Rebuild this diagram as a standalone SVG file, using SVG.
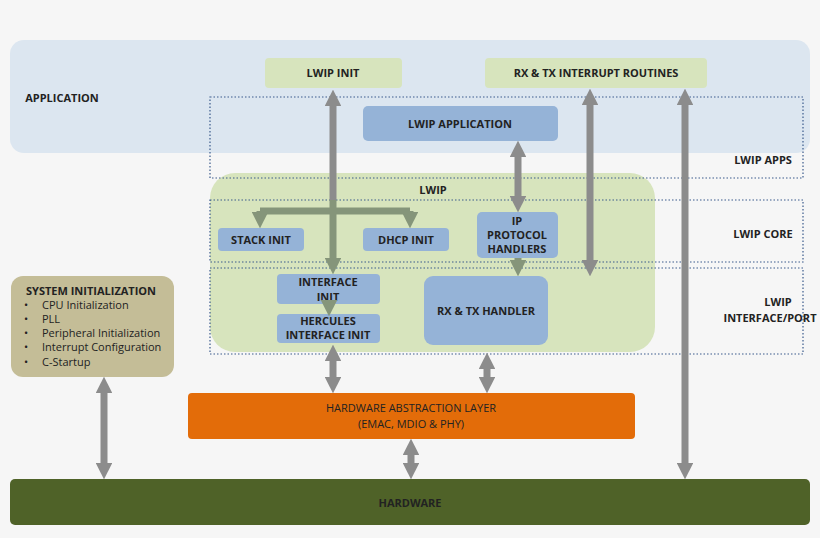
<svg xmlns="http://www.w3.org/2000/svg" width="820" height="538" viewBox="0 0 820 538">
<defs>
<marker id="ah" viewBox="0 0 10 10" refX="5" refY="5" markerWidth="2.4" markerHeight="2.4" orient="auto-start-reverse" markerUnits="strokeWidth"><path d="M0,0L10,5L0,10z" fill="context-stroke"/></marker>
<style>
text{font-family:"Open Sans","Liberation Sans",sans-serif;font-weight:bold;font-size:11px;fill:#222;text-anchor:middle}
.n{font-weight:normal}
.blue{fill:#95b3d7}
.green{fill:#d7e4bd}
.dot{fill:none;stroke:#3a5a8c;stroke-width:1.2;stroke-dasharray:1.5 2}
.a{stroke:#8c8c8c;stroke-width:7;fill:none;marker-start:url(#ah);marker-end:url(#ah)}
.g{stroke:#85957a;stroke-width:7;fill:none}
</style>
</defs>
<rect width="820" height="538" fill="#f6f6f6"/>
<g id="application"><rect x="10" y="40" width="800" height="113" rx="14" fill="#dce6f0"/><text x="62" y="102" text-anchor="middle">APPLICATION</text></g>
<g id="lwip"><rect x="210" y="173" width="445" height="179" rx="25" class="green"/><text x="433" y="194">LWIP</text></g>
<g id="lwip-apps"><rect x="210" y="97" width="593" height="81" class="dot"/><text x="763" y="164">LWIP APPS</text></g>
<g id="lwip-core"><rect x="210" y="200" width="593" height="62" class="dot"/><text x="763" y="238">LWIP CORE</text></g>
<g id="lwip-port"><rect x="210" y="268" width="593" height="86" class="dot"/><text x="778" y="306">LWIP</text><text x="770" y="322">INTERFACE/PORT</text></g>
<g id="lwip-init"><rect x="265" y="58" width="137" height="30" rx="4" class="green"/><text x="333" y="77">LWIP INIT</text></g>
<g id="rx-tx-int"><rect x="485" y="58" width="222" height="30" rx="4" class="green"/><text x="596" y="77">RX &amp; TX INTERRUPT ROUTINES</text></g>
<g id="lwip-app"><rect x="363" y="106" width="195" height="35" rx="5" class="blue"/><text x="460" y="128">LWIP APPLICATION</text></g>
<g id="stack-init"><rect x="218" y="228" width="86" height="23" rx="4" class="blue"/><text x="261" y="244">STACK INIT</text></g>
<g id="dhcp-init"><rect x="363" y="228" width="86" height="23" rx="4" class="blue"/><text x="406" y="244">DHCP INIT</text></g>
<g id="ip-proto"><rect x="477" y="212" width="81" height="46" rx="5" class="blue"/><text x="517" y="225" font-size="10">IP</text><text x="517" y="239" font-size="10">PROTOCOL</text><text x="517" y="253" font-size="10">HANDLERS</text></g>
<g id="iface-init"><rect x="277" y="274" width="103" height="30" rx="4" class="blue"/><text x="328" y="286">INTERFACE</text><text x="328" y="301">INIT</text></g>
<g id="hercules"><rect x="277" y="314" width="103" height="29" rx="4" class="blue"/><text x="328" y="325" font-size="10">HERCULES</text><text x="328" y="339" font-size="10">INTERFACE INIT</text></g>
<g id="rx-tx-handler"><rect x="424" y="276" width="124" height="69" rx="9" class="blue"/><text x="486" y="315">RX &amp; TX HANDLER</text></g>
<g id="sys-init"><rect x="11" y="276" width="163" height="101" rx="12" fill="#c4bd97"/>
<text x="91" y="295">SYSTEM INITIALIZATION</text>
<g class="n" style="text-anchor:start;font-size:10.5px"><text class="n" x="24" y="309" style="text-anchor:start">•</text><text class="n" x="42" y="309" style="text-anchor:start">CPU Initialization</text>
<text class="n" x="24" y="323" style="text-anchor:start">•</text><text class="n" x="42" y="323" style="text-anchor:start">PLL</text>
<text class="n" x="24" y="337" style="text-anchor:start">•</text><text class="n" x="42" y="337" style="text-anchor:start">Peripheral Initialization</text>
<text class="n" x="24" y="351" style="text-anchor:start">•</text><text class="n" x="42" y="351" style="text-anchor:start">Interrupt Configuration</text>
<text class="n" x="24" y="366" style="text-anchor:start">•</text><text class="n" x="42" y="366" style="text-anchor:start" font-size="11.5">C-Startup</text></g></g>
<g id="hal"><rect x="188" y="393" width="447" height="46" rx="4" fill="#e36c09"/><text class="n" x="411" y="412" fill="#222">HARDWARE ABSTRACTION LAYER</text><text class="n" x="411" y="428">(EMAC, MDIO &amp; PHY)</text></g>
<g id="hardware"><rect x="10" y="479" width="800" height="46" rx="5" fill="#4f6228"/><text x="410" y="507">HARDWARE</text></g>
<g id="connectors">
<path class="g" d="M260,211H410" stroke-width="6"/>
<path class="g" d="M260,211V220" style="marker-end:url(#ah)" stroke-width="6"/>
<path class="g" d="M410,211V220" style="marker-end:url(#ah)" stroke-width="6"/>
<path class="a" d="M333,98V200" style="marker-end:none"/>
<path class="g" d="M333,200V266" style="marker-end:url(#ah)"/>
<path class="g" d="M329,304V308" stroke-width="6" style="marker-end:url(#ah)"/>
<path class="a" d="M518,149V204"/>
<path class="g" d="M518,258V268" stroke-width="6" style="marker-end:url(#ah)"/>
<path class="a" d="M590,97V268"/>
<path class="a" d="M685,97V471"/>
<path class="a" d="M333,353V385"/>
<path class="a" d="M487,361V385"/>
<path class="a" d="M411,447V471"/>
<path class="a" d="M104,385V471"/>
</g>
</svg>
